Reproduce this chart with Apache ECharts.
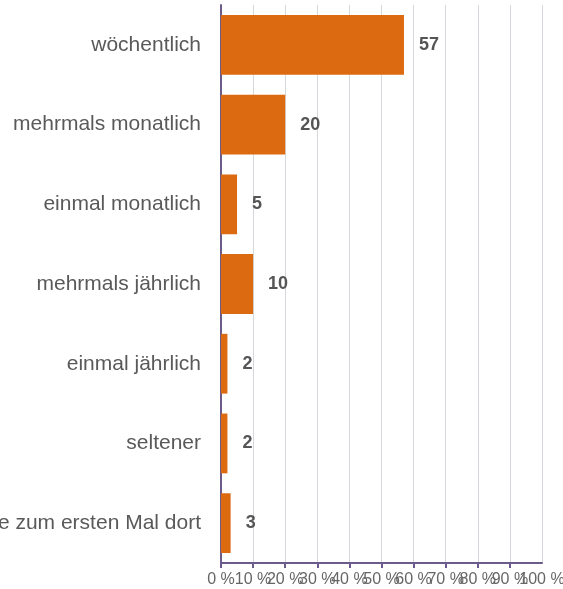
<!DOCTYPE html>
<html>
<head>
<meta charset="utf-8">
<script src="https://cdn.jsdelivr.net/npm/echarts@6/dist/echarts.min.js"></script>
<style>
html, body { margin: 0; padding: 0; background: #fff; }
#chart { width: 563px; height: 589px; }
</style>
</head>
<body>
<div id="chart"></div>
<script>
var categories = ['wöchentlich', 'mehrmals monatlich', 'einmal monatlich', 'mehrmals jährlich', 'einmal jährlich', 'seltener', 'Ich bin heute zum ersten Mal dort'];
var values = [57, 20, 5, 10, 2, 2, 3];

var axisColor = '#6b5b8b';
var labelStyle = {
    formatter: '{value} %',
    color: '#666',
    fontSize: 16,
    fontFamily: 'Liberation Sans',
    margin: 9,
    hideOverlap: false
};

var myChart = echarts.init(document.getElementById('chart'));
var option = {
    animation: false,
    grid: { left: 221, right: 21, top: 5, bottom: 26, containLabel: false, outerBoundsMode: 'none' },
    xAxis: [{
        type: 'value',
        min: 0,
        max: 100,
        interval: 10,
        axisLine: { show: true, lineStyle: { color: axisColor, width: 2 } },
        axisTick: { show: true, length: 5, lineStyle: { color: axisColor, width: 2 } },
        axisLabel: Object.assign({}, labelStyle, { showMinLabel: true, showMaxLabel: false }),
        splitLine: { show: true, lineStyle: { color: '#d4d7db', width: 1 } }
    }, {
        // only carries the 100 % label so the 90 % label is not dropped
        type: 'value',
        position: 'bottom',
        min: 0,
        max: 100,
        interval: 10,
        axisLine: { show: false },
        axisTick: { show: false },
        splitLine: { show: false },
        axisLabel: Object.assign({}, labelStyle, {
            showMinLabel: false,
            showMaxLabel: true,
            formatter: function (v) { return v === 100 ? v + ' %' : ''; }
        })
    }],
    yAxis: {
        type: 'category',
        data: categories,
        inverse: true,
        axisLine: { show: true, lineStyle: { color: axisColor, width: 2 } },
        axisTick: { show: false },
        axisLabel: {
            color: '#595959',
            fontSize: 21,
            fontFamily: 'Liberation Sans',
            margin: 20
        }
    },
    series: [{
        type: 'bar',
        data: values,
        barWidth: '75%',
        itemStyle: { color: '#dc6a10' },
        label: {
            show: true,
            position: 'right',
            distance: 15,
            color: '#555',
            fontWeight: 'bold',
            fontSize: 18,
            fontFamily: 'Liberation Sans'
        }
    }]
};
myChart.setOption(option);
window.addEventListener('resize', function () {
    myChart.resize();
});
</script>
</body>
</html>
